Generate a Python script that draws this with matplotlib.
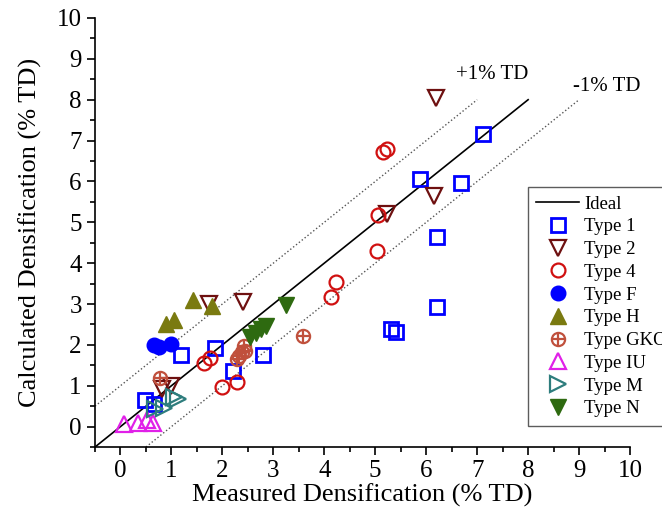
import matplotlib
matplotlib.use("Agg")
import matplotlib.pyplot as plt
from matplotlib.ticker import MultipleLocator
from matplotlib.legend_handler import HandlerTuple

plt.rcParams["font.family"] = ["Liberation Serif", "DejaVu Serif"]

# measured / calculated densification (% TD)
type1_x = [7.12, 5.88, 6.68, 6.22, 6.22, 5.30, 5.40, 2.80, 1.86, 1.18, 2.20, 0.49, 0.65]
type1_y = [7.15, 6.05, 5.95, 4.65, 2.93, 2.40, 2.32, 1.75, 1.93, 1.75, 1.35, 0.65, 0.55]

type2_x = [6.20, 6.16, 5.24, 1.73, 2.41, 0.82, 1.00]
type2_y = [8.05, 5.65, 5.20, 3.00, 3.05, 0.92, 1.00]

type4_x = [5.24, 5.16, 5.06, 5.04, 4.22, 4.13, 1.63, 1.76, 2.00, 2.29]
type4_y = [6.80, 6.72, 5.18, 4.30, 3.55, 3.18, 1.55, 1.67, 0.98, 1.08]

typeF_x = [0.65, 0.75, 1.00]
typeF_y = [2.00, 1.95, 2.03]

typeH_x = [1.43, 1.80, 0.90, 1.05]
typeH_y = [3.10, 2.95, 2.50, 2.60]

typeGKO_x = [0.78, 2.42, 2.38, 2.33, 2.28, 2.45, 3.59]
typeGKO_y = [1.20, 1.97, 1.82, 1.72, 1.65, 1.85, 2.22]

typeIU_x = [0.07, 0.35, 0.52, 0.63]
typeIU_y = [0.07, 0.10, 0.15, 0.10]

typeM_x = [1.05, 1.12, 0.68, 0.85]
typeM_y = [0.73, 0.68, 0.42, 0.45]

typeN_x = [2.85, 2.75, 2.65, 2.55, 3.25]
typeN_y = [2.45, 2.40, 2.30, 2.20, 2.97]

ideal = [-0.5, 8]
plus_x = [-0.5, 7]
minus_x = [0.5, 9]

fig = plt.figure(figsize=(6.62, 5.11), dpi=100)
ax = fig.add_axes([0.1435, 0.1252, 0.8082, 0.8396])

ideal_line, = ax.plot(ideal, ideal, color="black", lw=1.2, label="Ideal")
ax.plot(plus_x, [v + 1 for v in plus_x], color="#555555", lw=1, ls=":")
ax.plot(minus_x, [v - 1 for v in minus_x], color="#555555", lw=1, ls=":")

ms = 9.5
mew = 1.6
h1, = ax.plot(type1_x, type1_y, "s", ms=ms, mfc="none", mec="#0000ff", mew=mew + 0.4, ls="none")
h2, = ax.plot(type2_x, type2_y, "v", ms=ms + 1.5, mfc="none", mec="#6e1010", mew=mew, ls="none")
h4, = ax.plot(type4_x, type4_y, "o", ms=ms + 0.5, mfc="none", mec="#d01010", mew=mew, ls="none")
hF, = ax.plot(typeF_x, typeF_y, "o", ms=ms + 1, mfc="#0000ff", mec="#0000ff", ls="none")
hH, = ax.plot(typeH_x, typeH_y, "^", ms=ms + 1.5, mfc="#7a7a10", mec="#7a7a10", ls="none")
hGo, = ax.plot(typeGKO_x, typeGKO_y, "o", ms=ms, mfc="none", mec="#c0503c", mew=mew, ls="none")
hGp, = ax.plot(typeGKO_x, typeGKO_y, "+", ms=ms, mec="#c0503c", mew=mew, ls="none")
hIU, = ax.plot(typeIU_x, typeIU_y, "^", ms=ms + 1.5, mfc="none", mec="#e020e8", mew=mew, ls="none")
hM, = ax.plot(typeM_x, typeM_y, ">", ms=ms + 1.5, mfc="none", mec="#2e7d7d", mew=mew, ls="none")
hN, = ax.plot(typeN_x, typeN_y, "v", ms=ms + 1.5, mfc="#2e6a10", mec="#2e6a10", ls="none")

ax.text(7.3, 8.62, "+1% TD", fontsize=15, ha="center", va="center")
ax.text(9.55, 8.32, "-1% TD", fontsize=15, ha="center", va="center")

ax.set_xlim(-0.5, 10)
ax.set_ylim(-0.5, 10)
ax.xaxis.set_major_locator(MultipleLocator(1))
ax.yaxis.set_major_locator(MultipleLocator(1))
ax.xaxis.set_minor_locator(MultipleLocator(0.5))
ax.yaxis.set_minor_locator(MultipleLocator(0.5))
ax.tick_params(which="major", direction="out", length=6, width=1.2, labelsize=18)
ax.tick_params(which="minor", direction="out", length=3.5, width=1.2)
ax.spines["top"].set_visible(False)
ax.spines["right"].set_visible(False)
ax.spines["left"].set_linewidth(1.2)
ax.spines["bottom"].set_linewidth(1.2)

ax.set_xlabel("Measured Densification (% TD)", fontsize=19, labelpad=1)
ax.set_ylabel("Calculated Densification (% TD)", fontsize=19, labelpad=11)

handles = [ideal_line, h1, h2, h4, hF, hH, (hGo, hGp), hIU, hM, hN]
labels = ["Ideal", "Type 1", "Type 2", "Type 4", "Type F", "Type H",
          "Type GKO", "Type IU", "Type M", "Type N"]
leg = fig.legend(handles, labels, loc="upper left", bbox_to_anchor=(528 / 662, 1 - 187 / 511),
                 borderaxespad=0, fontsize=13.5, frameon=True, fancybox=False,
                 edgecolor="#333333", handlelength=2.25, handletextpad=0.3,
                 labelspacing=0.3, borderpad=0.45,
                 handler_map={tuple: HandlerTuple(ndivide=1, pad=0)})
leg.get_frame().set_linewidth(1.0)

fig.savefig("out.png", dpi=100)
